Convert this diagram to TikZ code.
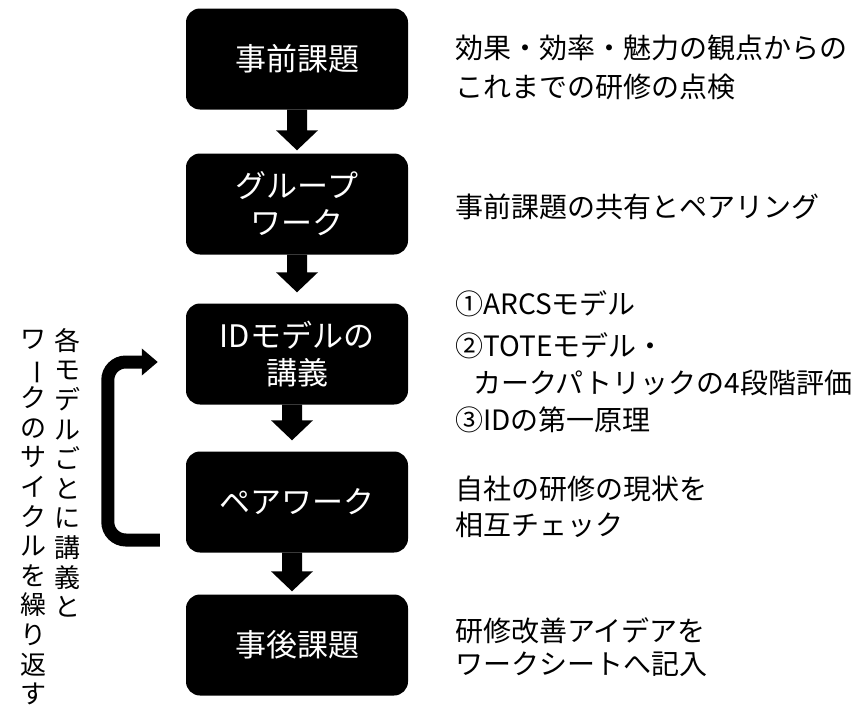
\documentclass[tikz,border=0pt]{standalone}
\usepackage{fontspec}
\usepackage{graphicx}
\setmainfont{Noto Sans CJK JP}
\usetikzlibrary{calc,arrows.meta}
\newcommand\vbarmark{\rotatebox[origin=c]{-90}{ー}}
\newcommand\blockdn[2]{%
  \fill ($(#1)+(-10,0)$) -- ($(#1)+(10,0)$) -- ($(#2)+(10,-20)$) -- ($(#2)+(21,-20)$)
    -- (#2) -- ($(#2)+(-21,-20)$) -- ($(#2)+(-10,-20)$) -- cycle;}
\begin{document}
\begin{tikzpicture}[x=1pt,y=-1pt,
  box/.style={fill=black,text=white,rounded corners=14pt,minimum width=222pt,
    minimum height=101pt,align=center,inner sep=0pt,font=\fontsize{31}{37}\selectfont},
  note/.style={anchor=west,align=left,inner sep=0pt},
  vtext/.style={anchor=north,align=center,inner sep=0pt,font=\fontsize{26}{29.6}\selectfont},
  loopline/.style={line width=13pt,rounded corners=18pt,-{Triangle[length=16pt,width=26pt]}}]
\fill[white] (0,0) rectangle (863,707);
\useasboundingbox (0,0) rectangle (863,707);

% main boxes
\node[box] (b1) at (297,59) {事前課題};
\node[box] (b2) at (297,204) {グループ\\ワーク};
\node[box] (b3) at (297,354) {IDモデルの\\講義};
\node[box] (b4) at (297,502) {ペアワーク};
\node[box] (b5) at (297,645) {事後課題};

% block arrows
\coordinate (a1s) at (b1.south);
\coordinate (a1e) at ($(b2.north)+(0,-3)$);
\coordinate (a2s) at (b2.south);
\coordinate (a2e) at ($(b3.north)+(0,-11)$);
\coordinate (a3s) at ($(b3.south)+(-5,0)$);
\coordinate (a3e) at ($(b4.north)+(-5,-11)$);
\coordinate (a4s) at ($(b4.south)+(-5,0)$);
\coordinate (a4e) at ($(b5.north)+(-5,-3)$);
\blockdn{a1s}{a1e}
\blockdn{a2s}{a2e}
\blockdn{a3s}{a3e}
\blockdn{a4s}{a4e}

% loop arrow
\coordinate (ls) at ($(b4.west)+(-26,38)$);
\coordinate (le) at ($(b3.west)+(-28,8)$);
\draw[loopline] (ls) -- ++(-52,0) |- (le);

% vertical text
\node[vtext] (vt1) at (67,328) {各\\モ\\デ\\ル\\ご\\と\\に\\講\\義\\と};
\node[vtext] (vt2) at (33,330) {ワ\\\vbarmark\\ク\\の\\サ\\イ\\ク\\ル\\を\\繰\\り\\返\\す};

% notes
\node[note,font=\fontsize{28}{39}\selectfont] (n1) at (455,67) {効果・効率・魅力の観点からの\\これまでの研修の点検};
\node[note,font=\fontsize{28}{37}\selectfont] (n2) at (455,207) {事前課題の共有とペアリング};
\node[note,font=\fontsize{28}{37}\selectfont] (n3) at (455,362) {①ARCSモデル\\[5pt]②TOTEモデル・\\\hspace*{18pt}カークパトリックの4段階評価\\③IDの第一原理};
\node[note,font=\fontsize{28}{36}\selectfont] (n4) at (455,507) {自社の研修の現状を\\相互チェック};
\node[note,font=\fontsize{28}{33}\selectfont] (n5) at (455,647) {研修改善アイデアを\\ワークシートへ記入};
\end{tikzpicture}
\end{document}
